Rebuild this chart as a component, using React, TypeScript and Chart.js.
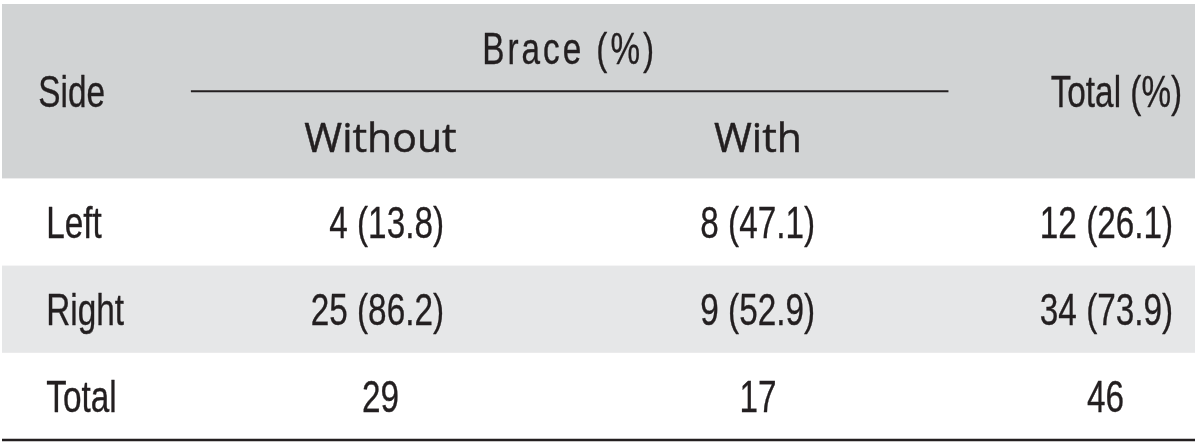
import React, { useEffect, useRef } from 'react';
import { Chart, registerables } from 'chart.js';

Chart.register(...registerables);

// ---- Data ----
const sideTitle = 'Side';
const groupTitle = 'Brace (%)';
const subHeaders = ['Without', 'With'];
const totalTitle = 'Total (%)';
const sides = ['Left', 'Right', 'Total'];
const withoutCounts = [4, 25, 29];
const withoutPct: (number | null)[] = [13.8, 86.2, null];
const withCounts = [8, 9, 17];
const withPct: (number | null)[] = [47.1, 52.9, null];
const totalCounts = [12, 34, 46];
const totalPct: (number | null)[] = [26.1, 73.9, null];

// rows of the table on the category (y) scale
const rowKeys = ['header-top', 'header-bottom', ...sides];

// ---- Layout (x scale units, 0..12 across the table) ----
const X_SIDE_TITLE = 0.365;
const X_ROW_LABEL = 0.445;
const COL_CENTER = [3.807, 7.604, 11.1];
const COL_RIGHT = [4.446, 8.178, 11.78];
const X_TOTAL_TITLE_RIGHT = 11.87;
const RULE_FROM = 1.9;
const RULE_TO = 9.52;

const TEXT = '#231f20';
const HEADER_BG = '#d1d3d4';
const STRIPE_BG = '#e6e7e8';
const COND_FONT = "45px 'Liberation Sans', Arial, sans-serif";
const COND_SCALE = 0.74;
const SUB_FONT = "41px 'Open Sans', sans-serif";

function fmt(n: number, p: number | null) {
  return p === null ? String(n) : `${n} (${p.toFixed(1)})`;
}

function drawText(
  ctx: CanvasRenderingContext2D,
  text: string,
  x: number,
  y: number,
  align: CanvasTextAlign,
  font: string,
  sx: number,
  spacing = 0,
  stroke = 0.35
) {
  ctx.save();
  ctx.translate(x, y);
  ctx.scale(sx, 1);
  ctx.font = font;
  (ctx as any).letterSpacing = spacing + 'px';
  ctx.textAlign = align;
  ctx.textBaseline = 'alphabetic';
  ctx.fillStyle = TEXT;
  ctx.fillText(text, 0, 0);
  if (stroke > 0) {
    ctx.strokeStyle = TEXT;
    ctx.lineWidth = stroke;
    ctx.lineJoin = 'round';
    ctx.strokeText(text, 0, 0);
  }
  ctx.restore();
}

const tablePlugin = {
  id: 'tablePlugin',
  beforeDraw(chart: any) {
    const { ctx, chartArea, scales } = chart;
    const ys = scales.y;
    const band = (chartArea.bottom - chartArea.top) / rowKeys.length;
    const top = (i: number) => ys.getPixelForValue(i) - band / 2;
    const bottom = (i: number) => ys.getPixelForValue(i) + band / 2;
    ctx.save();
    ctx.fillStyle = HEADER_BG;
    ctx.fillRect(chartArea.left, top(0), chartArea.right - chartArea.left, bottom(1) - top(0));
    ctx.fillStyle = STRIPE_BG;
    const ri = rowKeys.indexOf('Right');
    ctx.fillRect(chartArea.left, top(ri), chartArea.right - chartArea.left, bottom(ri) - top(ri));
    ctx.restore();
  },
  afterDraw(chart: any) {
    const { ctx, chartArea, scales } = chart;
    const xs = scales.x;
    const ys = scales.y;
    const band = (chartArea.bottom - chartArea.top) / rowKeys.length;
    const capHalf = 16;
    const cy = (i: number) => ys.getPixelForValue(i);

    // header
    const headerMid = (cy(0) + cy(1)) / 2;
    drawText(ctx, sideTitle, xs.getPixelForValue(X_SIDE_TITLE), headerMid + capHalf, 'left', COND_FONT, COND_SCALE);
    drawText(
      ctx,
      groupTitle,
      xs.getPixelForValue((RULE_FROM + RULE_TO) / 2),
      cy(0) + capHalf,
      'center',
      COND_FONT,
      COND_SCALE,
      4
    );
    drawText(ctx, totalTitle, xs.getPixelForValue(X_TOTAL_TITLE_RIGHT), headerMid + capHalf, 'right', COND_FONT, COND_SCALE);
    subHeaders.forEach((h, k) => {
      drawText(ctx, h, xs.getPixelForValue(COL_CENTER[k]), cy(1) + capHalf + 1, 'center', SUB_FONT, 1, 0, 0.5);
    });

    // rule under group title
    ctx.save();
    ctx.strokeStyle = TEXT;
    ctx.lineWidth = 2;
    const ry = cy(0) + band / 2;
    ctx.beginPath();
    ctx.moveTo(xs.getPixelForValue(RULE_FROM), ry);
    ctx.lineTo(xs.getPixelForValue(RULE_TO), ry);
    ctx.stroke();
    // bottom rule
    ctx.lineWidth = 2.5;
    ctx.beginPath();
    ctx.moveTo(chartArea.left, chartArea.bottom);
    ctx.lineTo(chartArea.right, chartArea.bottom);
    ctx.stroke();
    ctx.restore();

    // body
    const cols = [
      [withoutCounts, withoutPct],
      [withCounts, withPct],
      [totalCounts, totalPct],
    ] as const;
    sides.forEach((s, r) => {
      const ri = rowKeys.indexOf(s);
      const y = cy(ri) + capHalf;
      drawText(ctx, s, xs.getPixelForValue(X_ROW_LABEL), y, 'left', COND_FONT, COND_SCALE);
      cols.forEach(([counts, pcts], c) => {
        const p = pcts[r];
        const txt = fmt(counts[r], p);
        if (p === null) {
          drawText(ctx, txt, xs.getPixelForValue(COL_CENTER[c]), y, 'center', COND_FONT, COND_SCALE);
        } else {
          drawText(ctx, txt, xs.getPixelForValue(COL_RIGHT[c]), y, 'right', COND_FONT, COND_SCALE);
        }
      });
    });
  },
};

export default function App() {
  const ref = useRef<HTMLCanvasElement | null>(null);
  useEffect(() => {
    if (!ref.current) return;
    const chart = new Chart(ref.current, {
      type: 'scatter',
      data: {
        datasets: [
          {
            data: [],
            pointRadius: 0,
          },
        ],
      },
      options: {
        animation: false,
        responsive: true,
        maintainAspectRatio: false,
        layout: { padding: { left: 2, right: 5, top: 4, bottom: 4 } },
        plugins: { legend: { display: false }, tooltip: { enabled: false } },
        scales: {
          x: { type: 'linear', min: 0, max: 12, display: false },
          y: { type: 'category', labels: rowKeys, offset: true, display: false },
        },
      },
      plugins: [tablePlugin],
    } as any);
    return () => chart.destroy();
  }, []);
  return (
    <div style={{ position: 'absolute', left: 0, top: 0, width: 1200, height: 444, background: '#fff' }}>
      <canvas ref={ref} />
    </div>
  );
}
